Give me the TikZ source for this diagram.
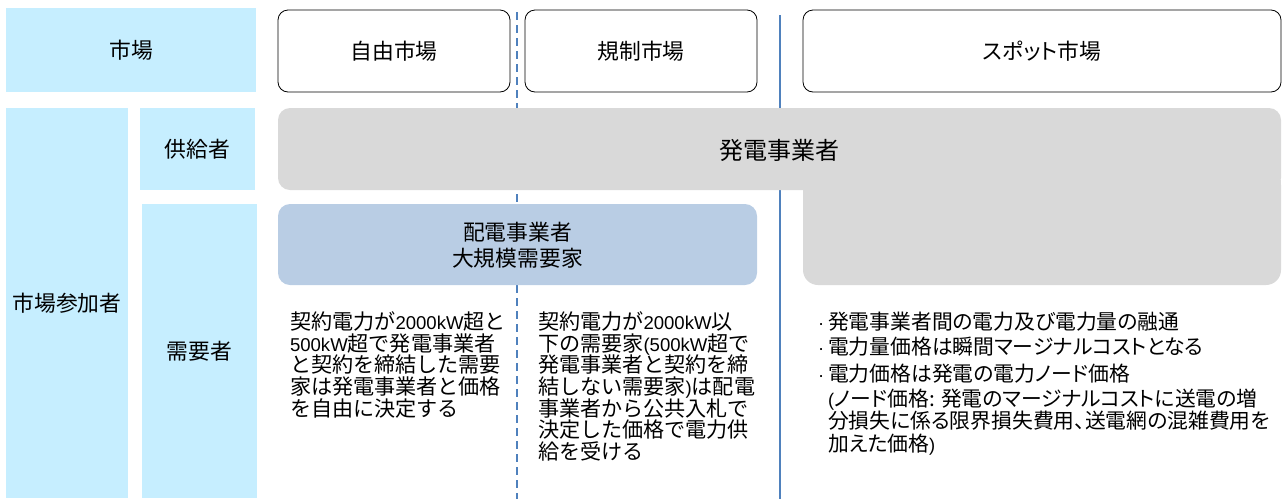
\documentclass[tikz,border=0pt]{standalone}
\usepackage{fontspec}
\setmainfont{Noto Sans CJK JP}
\newfontfamily\cjkp[RawFeature=+palt]{Noto Sans CJK JP}
\newfontfamily\latn[Scale=0.88]{Liberation Sans}
\definecolor{lblue}{HTML}{C6EEFF}
\definecolor{gbox}{HTML}{D9D9D9}
\definecolor{bbox}{HTML}{B9CDE4}
\definecolor{lineblue}{HTML}{4F81BD}
\newcommand{\bulx}{\makebox[10pt][l]{\latn ·}}
\begin{document}
\begin{tikzpicture}[x=1pt,y=-1pt,
  every node/.style={inner sep=0pt,outer sep=0pt},
  hdr/.style={fill=lblue, font=\fontsize{21.8}{24}\selectfont},
  mkt/.style={draw=black, line width=0.8pt, fill=white, rounded corners=10pt, font=\fontsize{21.8}{24}\selectfont, minimum height=82pt},
  body/.style={anchor=north west, align=left, font=\fontsize{21.1}{21.7}\selectfont}
]
\useasboundingbox (0,0) rectangle (1282,499);
% separators
\coordinate (dtop) at (517,12);
\coordinate (dbot) at (517,499);
\coordinate (stop) at (780,15);
\coordinate (sbot) at (780,499);
\draw[lineblue, line width=1.2pt, dash pattern=on 8pt off 5pt] (dtop) -- (dbot);
\draw[lineblue, line width=2.8pt] (stop) -- (sbot);
% left headers
\node[hdr, minimum width=250pt, minimum height=84pt] (market) at (131,50) {市場};
\node[hdr, minimum width=122pt, minimum height=390pt] (participants) at (67,303) {市場参加者};
\node[hdr, minimum width=115pt, minimum height=82pt] (supplier) at (197.5,149) {供給者};
\node[hdr, minimum width=115pt, minimum height=294pt] (demand) at (199.5,351) {需要者};
% market boxes
\node[mkt, minimum width=232pt] (free) at (394,51) {自由市場};
\node[mkt, minimum width=232pt] (reg) at (641,51) {規制市場};
\node[mkt, minimum width=478pt] (spot) at (1042,51) {\cjkp スポット市場};
% gray generator shape
\fill[gbox, rounded corners=15pt] (803,170) rectangle (1281,285);
\node[fill=gbox, rounded corners=12pt, minimum width=1003pt, minimum height=82pt] (gen) at (779.5,149) {};
\fill[gbox] (803,180) rectangle (1281,190);
\node[font=\fontsize{24}{26}\selectfont] (gentext) at (779,150) {発電事業者};
% distribution box
\node[fill=bbox, rounded corners=12pt, minimum width=479pt, minimum height=81pt] (dist) at (517.5,244.5) {};
\node[align=center, font=\fontsize{21.8}{26}\selectfont] (disttext) at (517.5,245) {配電事業者\\大規模需要家};
% body texts
\node[body] (freetext) at (290,311.5) {契約電力が{\latn 2000kW}超と\\{\latn 500kW}超で発電事業者\\と契約を締結した需要\\家は発電事業者と価格\\を自由に決定する};
\node[body] (regtext) at (538,311.5) {契約電力が{\latn 2000kW}以\\下の需要家{\latn (500kW}超で\\発電事業者と契約を締\\結しない需要家{\latn )}は配電\\事業者から公共入札で\\決定した価格で電力供\\給を受ける};
\node[body, font=\cjkp\fontsize{20.8}{22.3}\selectfont] (spottext) at (818,311.5) {\bulx 発電事業者間の電力及び電力量の融通\\[2.7pt]\bulx 電力量価格は瞬間マージナルコストとなる\\[5.5pt]\bulx 電力価格は発電の電力ノード価格\\[2.5pt]\hspace*{10pt}{\latn (}ノード価格: 発電のマージナルコストに送電の増\\\hspace*{10pt}分損失に係る限界損失費用、送電網の混雑費用を\\\hspace*{10pt}加えた価格{\latn )}};
\end{tikzpicture}
\end{document}
